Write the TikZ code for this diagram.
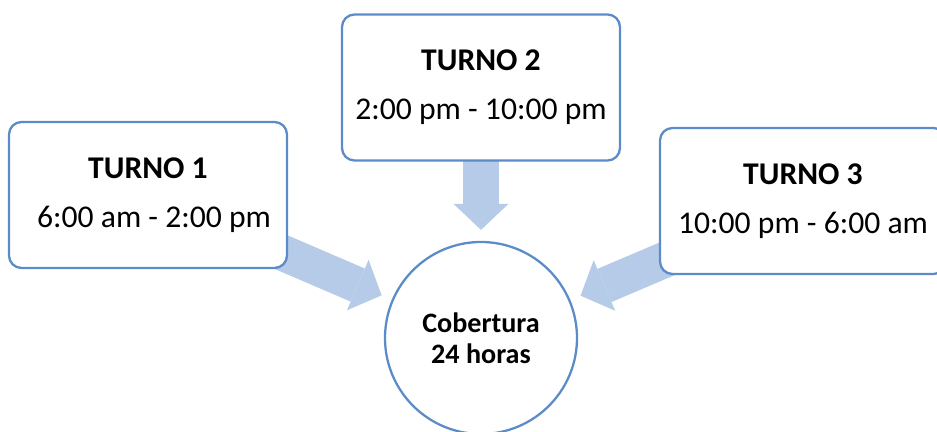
\documentclass[tikz,border=0pt]{standalone}
\usepackage{fontspec}
\setmainfont{Carlito}
\usetikzlibrary{arrows.meta,backgrounds}
\definecolor{bordeazul}{HTML}{5B8CC8}
\definecolor{flechaazul}{HTML}{B6CBE7}

\begin{document}
\begin{tikzpicture}[
    turno/.style={rectangle, rounded corners=0.25cm, draw=bordeazul, line width=1.3pt, fill=white,
        minimum width=5.56cm, minimum height=2.92cm, align=center, font=\fontsize{18}{28}\selectfont},
    cobertura/.style={circle, draw=bordeazul, line width=1.3pt, fill=white, minimum size=3.84cm,
        align=center, font=\fontsize{16}{17.6}\selectfont\bfseries},
    flecha/.style={-{Triangle[width=1.1cm, length=0.52cm, line width=0pt]}, line width=0.72cm,
        draw=flechaazul, shorten >=0.22cm}
]
    \useasboundingbox (0,0) rectangle (18.74,8.64);

    \node[cobertura] (C) at (9.62,1.88) {Cobertura\\24 horas};
    \node[turno] (T1) at (2.96,4.74) {\textbf{TURNO 1}\\\hspace*{0.24cm}6:00 am - 2:00 pm};
    \node[turno] (T2) at (9.62,6.89) {\textbf{TURNO 2}\\2:00 pm - 10:00 pm};
    \node[turno, minimum width=5.72cm] (T3) at (16.06,4.62) {\textbf{TURNO 3}\\10:00 pm - 6:00 am};

    \begin{scope}[on background layer]
        \draw[flecha] (T1.center) -- (C);
        \draw[flecha] (T2.center) -- (C);
        \draw[flecha] (T3.center) -- (C);
    \end{scope}
\end{tikzpicture}
\end{document}
